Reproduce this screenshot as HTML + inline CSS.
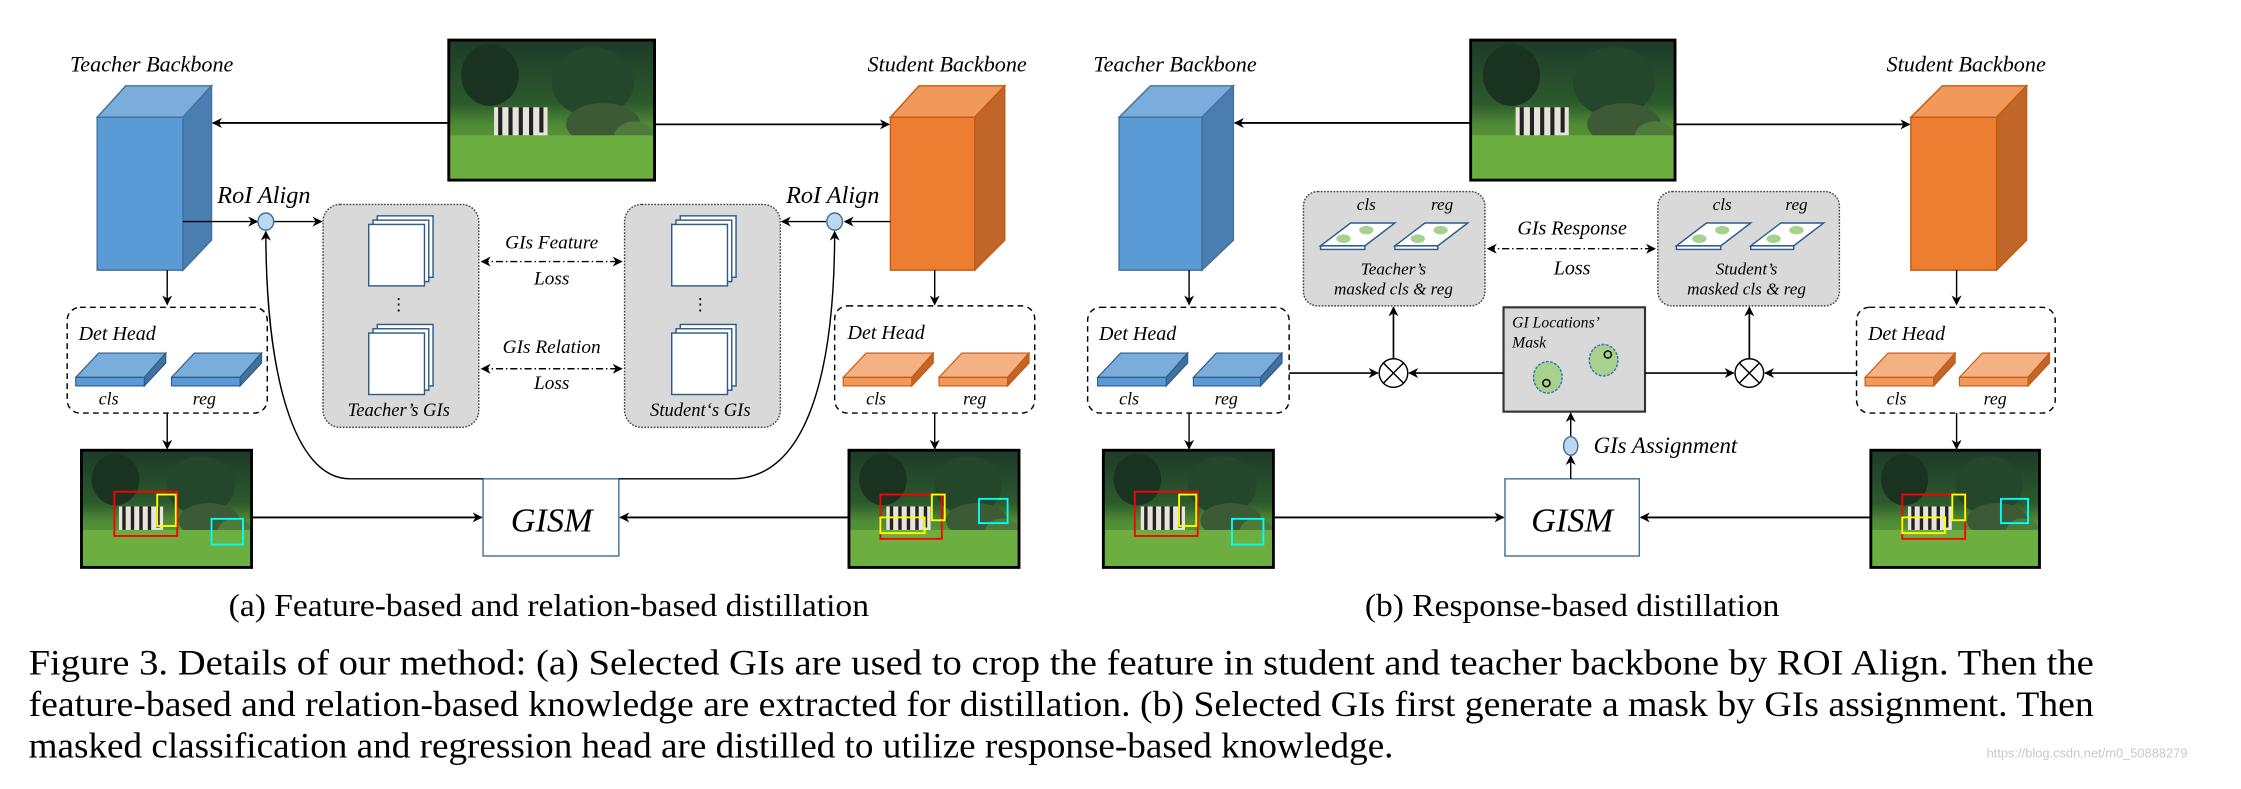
<!DOCTYPE html>
<html><head><meta charset="utf-8"><style>html,body{margin:0;padding:0;background:#fff}svg{display:block}</style></head>
<body>
<svg width="2241" height="789" viewBox="0 0 1568 552" xmlns="http://www.w3.org/2000/svg" font-family="'Liberation Serif', serif">
<defs>
<marker id="ah" viewBox="0 0 10 10" refX="9" refY="5" markerWidth="7" markerHeight="7" orient="auto-start-reverse" markerUnits="userSpaceOnUse"><path d="M0,0 L10,5 L0,10 L3,5 z" fill="#000"/></marker>
<linearGradient id="sky" x1="0" y1="0" x2="0" y2="1">
<stop offset="0" stop-color="#1d3a2a"/><stop offset="0.45" stop-color="#2c5a2c"/><stop offset="0.6" stop-color="#4f8a35"/><stop offset="1" stop-color="#6fb040"/></linearGradient>
<symbol id="img" viewBox="0 0 100 100" preserveAspectRatio="none">
<rect width="100" height="100" fill="url(#sky)"/>
<ellipse cx="20" cy="25" rx="14" ry="22" fill="#1a3320"/>
<ellipse cx="70" cy="30" rx="20" ry="25" fill="#24462a"/>
<ellipse cx="75" cy="60" rx="18" ry="15" fill="#3b5a35"/>
<ellipse cx="90" cy="70" rx="10" ry="12" fill="#4e7a3a"/>
<rect x="0" y="68" width="100" height="32" fill="#6cae40"/>
<rect x="22" y="48" width="26" height="20" fill="#e8e4dc"/>
<g stroke="#222" stroke-width="2"><line x1="25" y1="48" x2="25" y2="68"/><line x1="30" y1="48" x2="30" y2="68"/><line x1="35" y1="48" x2="35" y2="68"/><line x1="40" y1="48" x2="40" y2="68"/><line x1="45" y1="48" x2="45" y2="66"/></g>
</symbol>
</defs>

<g font-style="italic" fill="#000">
<!-- ===== Panel (a) ===== -->
<text x="49" y="50" font-size="15.5">Teacher Backbone</text>
<text x="607" y="50" font-size="15.5">Student Backbone</text>
<polygon points="68,82 88,60 148,60 128,82" fill="#7aaddc" stroke="#41719c"/>
<polygon points="128,82 148,60 148,168 128,189" fill="#4a7eb0" stroke="#41719c"/>
<rect x="68" y="82" width="60" height="107" fill="#5b9bd5" stroke="#41719c"/>
<polygon points="623,82 643,60 703,60 682,82" fill="#f0995a" stroke="#c55a11"/>
<polygon points="682,82 703,60 703,168 682,189" fill="#c0662a" stroke="#c55a11"/>
<rect x="623" y="82" width="59" height="107" fill="#ed7d31" stroke="#c55a11"/>
<use href="#img" x="314" y="28" width="144" height="98"/>
<rect x="314" y="28" width="144" height="98" fill="none" stroke="#000" stroke-width="2"/>
<line x1="314" y1="86" x2="149" y2="86" stroke="#000" stroke-width="1.3" marker-end="url(#ah)"/>
<line x1="458" y1="87" x2="622" y2="87" stroke="#000" stroke-width="1.3" marker-end="url(#ah)"/>
<text x="152" y="142" font-size="17">RoI Align</text>
<text x="550" y="142" font-size="17">RoI Align</text>
<line x1="128" y1="155" x2="180" y2="155" stroke="#000" marker-end="url(#ah)"/>
<ellipse cx="186" cy="155" rx="5.5" ry="6" fill="#bdd7ee" stroke="#41719c"/>
<line x1="192" y1="155" x2="225" y2="155" stroke="#000" marker-end="url(#ah)"/>
<line x1="623" y1="155" x2="591" y2="155" stroke="#000" marker-end="url(#ah)"/>
<ellipse cx="584" cy="155" rx="5.5" ry="6" fill="#bdd7ee" stroke="#41719c"/>
<line x1="578" y1="155" x2="547" y2="155" stroke="#000" marker-end="url(#ah)"/>
<rect x="226" y="143" width="109" height="156" rx="12" fill="#d9d9d9" stroke="#444" stroke-dasharray="1.2,1"/>
<rect x="437" y="143" width="109" height="156" rx="12" fill="#d9d9d9" stroke="#444" stroke-dasharray="1.2,1"/>
<g fill="#fff" stroke="#2e5b8a" stroke-width="1">
<rect x="264" y="151" width="39" height="43"/><rect x="261" y="154" width="39" height="43"/><rect x="258" y="157" width="39" height="43"/>
<rect x="264" y="227" width="39" height="43"/><rect x="261" y="230" width="39" height="43"/><rect x="258" y="233" width="39" height="43"/>
<rect x="476" y="151" width="39" height="43"/><rect x="473" y="154" width="39" height="43"/><rect x="470" y="157" width="39" height="43"/>
<rect x="476" y="227" width="39" height="43"/><rect x="473" y="230" width="39" height="43"/><rect x="470" y="233" width="39" height="43"/>
</g>
<text x="279" y="217" font-size="12" text-anchor="middle" font-style="normal">⋮</text>
<text x="490" y="217" font-size="12" text-anchor="middle" font-style="normal">⋮</text>
<text x="279" y="291" font-size="13" text-anchor="middle">Teacher’s GIs</text>
<text x="490" y="291" font-size="13" text-anchor="middle">Student‘s GIs</text>
<text x="386" y="174" font-size="13.5" text-anchor="middle">GIs Feature</text>
<text x="386" y="199" font-size="13.5" text-anchor="middle">Loss</text>
<line x1="337" y1="183" x2="435" y2="183" stroke="#000" stroke-dasharray="5,2,1,2" marker-start="url(#ah)" marker-end="url(#ah)"/>
<text x="386" y="247" font-size="13.5" text-anchor="middle">GIs Relation</text>
<text x="386" y="272" font-size="13.5" text-anchor="middle">Loss</text>
<line x1="337" y1="258" x2="435" y2="258" stroke="#000" stroke-dasharray="5,2,1,2" marker-start="url(#ah)" marker-end="url(#ah)"/>
<line x1="117" y1="189" x2="117" y2="213" stroke="#000" marker-end="url(#ah)"/>
<rect x="47" y="215" width="140" height="74" rx="9" fill="none" stroke="#000" stroke-dasharray="4,3"/>
<text x="55" y="238" font-size="14">Det Head</text>
<g fill="#7aaddc" stroke="#2e5b8a" stroke-width="0.8">
<polygon points="53,264 69,247 116,247 101,264"/><polygon points="101,264 116,247 116,254 101,270" fill="#41719c"/><rect x="53" y="264" width="48" height="6" fill="#5b9bd5"/>
<polygon points="120,264 136,247 183,247 168,264"/><polygon points="168,264 183,247 183,254 168,270" fill="#41719c"/><rect x="120" y="264" width="48" height="6" fill="#5b9bd5"/>
</g>
<text x="76" y="283" font-size="12.5" text-anchor="middle">cls</text>
<text x="143" y="283" font-size="12.5" text-anchor="middle">reg</text>
<line x1="117" y1="289" x2="117" y2="314" stroke="#000" marker-end="url(#ah)"/>
<line x1="654" y1="189" x2="654" y2="213" stroke="#000" marker-end="url(#ah)"/>
<rect x="584" y="214" width="140" height="75" rx="9" fill="none" stroke="#000" stroke-dasharray="4,3"/>
<text x="593" y="237" font-size="14">Det Head</text>
<g fill="#f4b183" stroke="#c55a11" stroke-width="0.8">
<polygon points="590,264 606,247 653,247 638,264"/><polygon points="638,264 653,247 653,254 638,270" fill="#c0662a"/><rect x="590" y="264" width="48" height="6" fill="#f0995a"/>
<polygon points="657,264 673,247 720,247 705,264"/><polygon points="705,264 720,247 720,254 705,270" fill="#c0662a"/><rect x="657" y="264" width="48" height="6" fill="#f0995a"/>
</g>
<text x="613" y="283" font-size="12.5" text-anchor="middle">cls</text>
<text x="682" y="283" font-size="12.5" text-anchor="middle">reg</text>
<line x1="654" y1="289" x2="654" y2="314" stroke="#000" marker-end="url(#ah)"/>
<use href="#img" x="57" y="315" width="119" height="82"/>
<rect x="57" y="315" width="119" height="82" fill="none" stroke="#000" stroke-width="2"/>
<rect x="80" y="344" width="44" height="31" fill="none" stroke="#f00" stroke-width="1.3"/>
<rect x="110" y="346" width="13" height="22" fill="none" stroke="#ff0" stroke-width="1.3"/>
<rect x="148" y="363" width="22" height="18" fill="none" stroke="#0ff" stroke-width="1.3"/>
<use href="#img" x="594" y="315" width="119" height="82"/>
<rect x="594" y="315" width="119" height="82" fill="none" stroke="#000" stroke-width="2"/>
<rect x="616" y="346" width="43" height="31" fill="none" stroke="#f00" stroke-width="1.3"/>
<rect x="652" y="346" width="9" height="18" fill="none" stroke="#ff0" stroke-width="1.3"/>
<rect x="616" y="362" width="31" height="11" fill="none" stroke="#ff0" stroke-width="1.3"/>
<rect x="685" y="349" width="20" height="17" fill="none" stroke="#0ff" stroke-width="1.3"/>
<rect x="338" y="335" width="95" height="54" fill="#fff" stroke="#41719c"/>
<text x="386" y="372" font-size="24" text-anchor="middle">GISM</text>
<line x1="176" y1="362" x2="337" y2="362" stroke="#000" stroke-width="1.3" marker-end="url(#ah)"/>
<line x1="594" y1="362" x2="434" y2="362" stroke="#000" stroke-width="1.3" marker-end="url(#ah)"/>
<path d="M338,335 L245,335 C205,335 186,260 186,162" fill="none" stroke="#000" marker-end="url(#ah)"/>
<path d="M433,335 L512,335 C565,335 584,260 584,162" fill="none" stroke="#000" marker-end="url(#ah)"/>

<!-- ===== Panel (b) ===== -->
<text x="765" y="50" font-size="15.5">Teacher Backbone</text>
<text x="1320" y="50" font-size="15.5">Student Backbone</text>
<polygon points="783,82 805,60 863,60 841,82" fill="#7aaddc" stroke="#41719c"/>
<polygon points="841,82 863,60 863,168 841,189" fill="#4a7eb0" stroke="#41719c"/>
<rect x="783" y="82" width="58" height="107" fill="#5b9bd5" stroke="#41719c"/>
<polygon points="1337,82 1359,60 1418,60 1397,82" fill="#f0995a" stroke="#c55a11"/>
<polygon points="1397,82 1418,60 1418,168 1397,189" fill="#c0662a" stroke="#c55a11"/>
<rect x="1337" y="82" width="60" height="107" fill="#ed7d31" stroke="#c55a11"/>
<use href="#img" x="1029" y="28" width="143" height="98"/>
<rect x="1029" y="28" width="143" height="98" fill="none" stroke="#000" stroke-width="2"/>
<line x1="1029" y1="86" x2="864" y2="86" stroke="#000" stroke-width="1.3" marker-end="url(#ah)"/>
<line x1="1172" y1="87" x2="1336" y2="87" stroke="#000" stroke-width="1.3" marker-end="url(#ah)"/>
<rect x="912" y="134" width="127" height="80" rx="10" fill="#d9d9d9" stroke="#444" stroke-dasharray="1.2,1"/>
<rect x="1160" y="134" width="127" height="80" rx="10" fill="#d9d9d9" stroke="#444" stroke-dasharray="1.2,1"/>
<g font-size="12" text-anchor="middle">
<text x="956" y="147">cls</text><text x="1009" y="147">reg</text>
<text x="1205" y="147">cls</text><text x="1257" y="147">reg</text>
<text x="975" y="192">Teacher’s</text><text x="975" y="206">masked cls &amp; reg</text>
<text x="1222" y="192">Student’s</text><text x="1222" y="206">masked cls &amp; reg</text>
</g>
<g stroke="#2e5b8a" stroke-width="1" fill="#fff">
<polygon points="924,172 945,156 976,156 955,172"/><rect x="924" y="172" width="31" height="2.5"/>
<polygon points="976,172 997,156 1027,156 1006,172"/><rect x="976" y="172" width="30" height="2.5"/>
<polygon points="1173,172 1194,156 1225,156 1204,172"/><rect x="1173" y="172" width="31" height="2.5"/>
<polygon points="1225,172 1246,156 1276,156 1255,172"/><rect x="1225" y="172" width="30" height="2.5"/>
</g>
<g fill="#a9d18e">
<ellipse cx="940" cy="167" rx="5" ry="3"/><ellipse cx="956" cy="161" rx="5" ry="3"/>
<ellipse cx="992" cy="167" rx="5" ry="3"/><ellipse cx="1008" cy="161" rx="5" ry="3"/>
<ellipse cx="1189" cy="167" rx="5" ry="3"/><ellipse cx="1205" cy="161" rx="5" ry="3"/>
<ellipse cx="1241" cy="167" rx="5" ry="3"/><ellipse cx="1257" cy="161" rx="5" ry="3"/>
</g>
<text x="1100" y="164" font-size="14" text-anchor="middle">GIs Response</text>
<text x="1100" y="192" font-size="14" text-anchor="middle">Loss</text>
<line x1="1041" y1="174" x2="1158" y2="174" stroke="#000" stroke-dasharray="5,2,1,2" marker-start="url(#ah)" marker-end="url(#ah)"/>
<rect x="1052" y="215" width="99" height="73" fill="#d9d9d9" stroke="#333" stroke-width="1.5"/>
<text x="1058" y="229" font-size="11">GI Locations’</text>
<text x="1058" y="243" font-size="11">Mask</text>
<ellipse cx="1083" cy="264" rx="10" ry="11" fill="#a9d18e" stroke="#2e75b6" stroke-dasharray="2,1"/>
<circle cx="1082" cy="268" r="2.5" fill="none" stroke="#000"/>
<ellipse cx="1122" cy="252" rx="10" ry="11" fill="#a9d18e" stroke="#2e75b6" stroke-dasharray="2,1"/>
<circle cx="1125" cy="248" r="2.5" fill="none" stroke="#000"/>
<g fill="#fff" stroke="#000">
<circle cx="975" cy="261" r="10"/><line x1="968" y1="254" x2="982" y2="268"/><line x1="982" y1="254" x2="968" y2="268"/>
<circle cx="1224" cy="261" r="10"/><line x1="1217" y1="254" x2="1231" y2="268"/><line x1="1231" y1="254" x2="1217" y2="268"/>
</g>
<g stroke="#000" stroke-width="1.2">
<line x1="975" y1="251" x2="975" y2="215" marker-end="url(#ah)"/>
<line x1="1224" y1="251" x2="1224" y2="215" marker-end="url(#ah)"/>
<line x1="902" y1="261" x2="964" y2="261" marker-end="url(#ah)"/>
<line x1="1052" y1="261" x2="986" y2="261" marker-end="url(#ah)"/>
<line x1="1151" y1="261" x2="1213" y2="261" marker-end="url(#ah)"/>
<line x1="1299" y1="261" x2="1235" y2="261" marker-end="url(#ah)"/>
</g>
<line x1="832" y1="189" x2="832" y2="213" stroke="#000" marker-end="url(#ah)"/>
<rect x="761" y="215" width="141" height="74" rx="9" fill="none" stroke="#000" stroke-dasharray="4,3"/>
<text x="769" y="238" font-size="14">Det Head</text>
<g fill="#7aaddc" stroke="#2e5b8a" stroke-width="0.8">
<polygon points="768,264 784,247 831,247 816,264"/><polygon points="816,264 831,247 831,254 816,270" fill="#41719c"/><rect x="768" y="264" width="48" height="6" fill="#5b9bd5"/>
<polygon points="835,264 851,247 897,247 882,264"/><polygon points="882,264 897,247 897,254 882,270" fill="#41719c"/><rect x="835" y="264" width="47" height="6" fill="#5b9bd5"/>
</g>
<text x="790" y="283" font-size="12.5" text-anchor="middle">cls</text>
<text x="858" y="283" font-size="12.5" text-anchor="middle">reg</text>
<line x1="832" y1="289" x2="832" y2="314" stroke="#000" marker-end="url(#ah)"/>
<line x1="1369" y1="189" x2="1369" y2="213" stroke="#000" marker-end="url(#ah)"/>
<rect x="1299" y="215" width="139" height="74" rx="9" fill="none" stroke="#000" stroke-dasharray="4,3"/>
<text x="1307" y="238" font-size="14">Det Head</text>
<g fill="#f4b183" stroke="#c55a11" stroke-width="0.8">
<polygon points="1305,264 1321,247 1368,247 1353,264"/><polygon points="1353,264 1368,247 1368,254 1353,270" fill="#c0662a"/><rect x="1305" y="264" width="48" height="6" fill="#f0995a"/>
<polygon points="1371,264 1387,247 1434,247 1419,264"/><polygon points="1419,264 1434,247 1434,254 1419,270" fill="#c0662a"/><rect x="1371" y="264" width="48" height="6" fill="#f0995a"/>
</g>
<text x="1327" y="283" font-size="12.5" text-anchor="middle">cls</text>
<text x="1396" y="283" font-size="12.5" text-anchor="middle">reg</text>
<line x1="1369" y1="289" x2="1369" y2="314" stroke="#000" marker-end="url(#ah)"/>
<use href="#img" x="772" y="315" width="119" height="82"/>
<rect x="772" y="315" width="119" height="82" fill="none" stroke="#000" stroke-width="2"/>
<rect x="794" y="344" width="44" height="31" fill="none" stroke="#f00" stroke-width="1.3"/>
<rect x="825" y="346" width="12" height="22" fill="none" stroke="#ff0" stroke-width="1.3"/>
<rect x="862" y="363" width="22" height="18" fill="none" stroke="#0ff" stroke-width="1.3"/>
<use href="#img" x="1309" y="315" width="118" height="82"/>
<rect x="1309" y="315" width="118" height="82" fill="none" stroke="#000" stroke-width="2"/>
<rect x="1331" y="346" width="44" height="31" fill="none" stroke="#f00" stroke-width="1.3"/>
<rect x="1366" y="346" width="9" height="18" fill="none" stroke="#ff0" stroke-width="1.3"/>
<rect x="1331" y="362" width="30" height="11" fill="none" stroke="#ff0" stroke-width="1.3"/>
<rect x="1400" y="349" width="19" height="17" fill="none" stroke="#0ff" stroke-width="1.3"/>
<rect x="1053" y="335" width="94" height="54" fill="#fff" stroke="#41719c"/>
<text x="1100" y="372" font-size="24" text-anchor="middle">GISM</text>
<line x1="891" y1="362" x2="1052" y2="362" stroke="#000" stroke-width="1.3" marker-end="url(#ah)"/>
<line x1="1309" y1="362" x2="1148" y2="362" stroke="#000" stroke-width="1.3" marker-end="url(#ah)"/>
<line x1="1099" y1="335" x2="1099" y2="319" stroke="#000" marker-end="url(#ah)"/>
<ellipse cx="1099" cy="312" rx="5" ry="6.5" fill="#bdd7ee" stroke="#41719c"/>
<line x1="1099" y1="305" x2="1099" y2="289" stroke="#000" marker-end="url(#ah)"/>
<text x="1115" y="317" font-size="16">GIs Assignment</text>
</g>

<g fill="#000" font-size="22">
<text x="160" y="431" textLength="448" lengthAdjust="spacingAndGlyphs">(a)  Feature-based and relation-based distillation</text>
<text x="955" y="431" textLength="290" lengthAdjust="spacingAndGlyphs">(b)  Response-based distillation</text>
</g>
<g fill="#000" font-size="25">
<text x="20" y="472" textLength="1445" lengthAdjust="spacingAndGlyphs">Figure 3. Details of our method: (a) Selected GIs are used to crop the feature in student and teacher backbone by ROI Align. Then the</text>
<text x="20" y="501" textLength="1445" lengthAdjust="spacingAndGlyphs">feature-based and relation-based knowledge are extracted for distillation. (b) Selected GIs first generate a mask by GIs assignment. Then</text>
<text x="20" y="530" textLength="955" lengthAdjust="spacingAndGlyphs">masked classification and regression head are distilled to utilize response-based knowledge.</text>
</g>
<text x="1390" y="530" font-size="9" fill="#c8c8c8" font-family="'Liberation Sans', sans-serif">https://blog.csdn.net/m0_50888279</text>
</svg>
</body></html>
